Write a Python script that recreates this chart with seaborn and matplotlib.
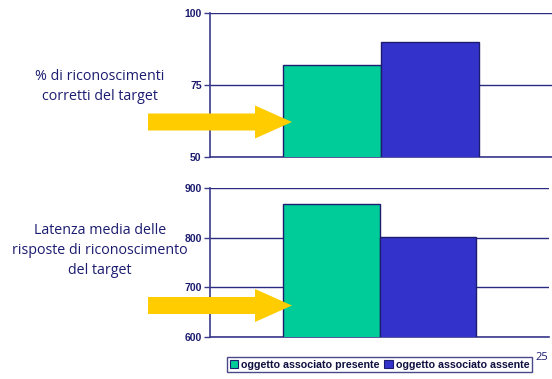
import matplotlib
matplotlib.use("Agg")
import matplotlib.pyplot as plt
from matplotlib.patches import Polygon, Patch
import seaborn as sns
import pandas as pd

conditions = ["oggetto associato presente", "oggetto associato assente"]
accuracy = [82, 90]
latency = [868, 801]
top_label = ["% di riconoscimenti", "corretti del target"]
bottom_label = ["Latenza media delle", "risposte di riconoscimento", "del target"]
top_ticks = [50, 75, 100]
bottom_ticks = [600, 700, 800, 900]

sns.set_theme(style="white")
plt.rcParams['font.family'] = ['Liberation Sans', 'DejaVu Sans']

NAVY = "#1c1c70"
GREEN = "#00CC99"
BLUE = "#3333CC"
YELLOW = "#FFCC00"
W, H = 552, 379

fig = plt.figure(figsize=(W / 100, H / 100), dpi=100)
fig.patch.set_facecolor("white")

def frac(x0, y0, x1, y1):
    return [x0 / W, 1 - y1 / H, (x1 - x0) / W, (y1 - y0) / H]

ax1 = fig.add_axes(frac(210, 13, 552, 157))
ax2 = fig.add_axes(frac(210, 188, 549, 337))

df1 = pd.DataFrame({"cat": [""] * 2, "cond": conditions, "val": accuracy})
df2 = pd.DataFrame({"cat": [""] * 2, "cond": conditions, "val": latency})
pal = {conditions[0]: GREEN, conditions[1]: BLUE}

for ax, df, ticks, width in [(ax1, df1, top_ticks, 0.576), (ax2, df2, bottom_ticks, 0.57)]:
    sns.barplot(data=df, x="cat", y="val", hue="cond", palette=pal, ax=ax,
                width=width, edgecolor=NAVY, linewidth=1.0, legend=False,
                saturation=1, zorder=3)
    ax.set_xlim(-0.5, 0.5)
    ax.set_ylim(ticks[0], ticks[-1])
    ax.set_yticks(ticks)
    ax.set_xticks([])
    ax.set_xlabel("")
    ax.set_ylabel("")
    ax.yaxis.grid(True, color="#2a2a80", linewidth=1.0, zorder=0)
    ax.set_axisbelow(True)
    for s in ["top", "right"]:
        ax.spines[s].set_visible(False)
    for s in ["left", "bottom"]:
        ax.spines[s].set_color("#3a3a8a")
        ax.spines[s].set_linewidth(1.2)
    ax.tick_params(axis="y", left=True, length=4, width=1, color="#3a3a8a",
                   labelsize=7.5, labelcolor=NAVY, pad=2)
    for lab in ax.get_yticklabels():
        lab.set_fontweight("bold")
    ax.set_facecolor("white")

# side labels, one text per line
def side_text(lines, x, y_centers):
    for line, yc in zip(lines, y_centers):
        fig.text(x / W, 1 - yc / H, line, ha="center", va="center",
                 fontsize=10.3, color=NAVY, family=["Open Sans", "DejaVu Sans"])

side_text(top_label, 100, [77, 97])
side_text(bottom_label, 100, [230, 250, 270])

# arrows
def arrow(yc, half_shaft, half_head):
    pts = [(148, yc - half_shaft), (255, yc - half_shaft), (255, yc - half_head),
           (292, yc), (255, yc + half_head), (255, yc + half_shaft), (148, yc + half_shaft)]
    pts = [(x / W, 1 - y / H) for x, y in pts]
    fig.add_artist(Polygon(pts, closed=True, facecolor=YELLOW, edgecolor="none",
                           transform=fig.transFigure, zorder=10))

arrow(122, 8.5, 16.5)
arrow(305.5, 8.5, 16.5)

handles = [Patch(facecolor=pal[c], edgecolor=NAVY, linewidth=0.8) for c in conditions]
leg = fig.legend(handles, conditions, loc="center", bbox_to_anchor=(379.5 / W, 1 - 364.5 / H),
                 ncol=2, frameon=True, fancybox=False, fontsize=7.7, handlelength=0.8,
                 handleheight=0.8, handletextpad=0.3, columnspacing=0.4,
                 borderpad=0.25, borderaxespad=0)
leg.get_frame().set_edgecolor(NAVY)
leg.get_frame().set_linewidth(1.0)
for t in leg.get_texts():
    t.set_fontweight("bold")
    t.set_color("#101040")

fig.text(535 / W, 1 - 357 / H, "25", fontsize=8, color=NAVY, ha="left", va="center",
         family=["Open Sans", "DejaVu Sans"])

fig.savefig("out.png", dpi=100)
